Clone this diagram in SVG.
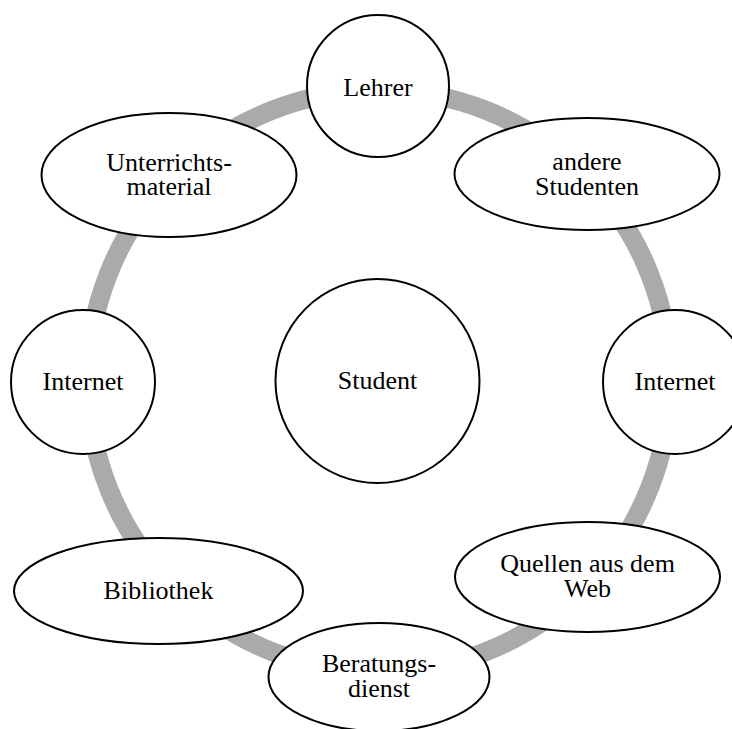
<svg xmlns="http://www.w3.org/2000/svg" width="732" height="729" viewBox="0 0 732 729">
<style>
.n{fill:#fff;stroke:#000;stroke-width:2}
.t{font-family:"Liberation Serif","Times New Roman",serif;font-size:26px;fill:#000;text-anchor:middle}
</style>
<rect width="732" height="729" fill="#fff"/>
<g id="connectors">
<circle cx="379" cy="381" r="291" fill="none" stroke="#aaaaaa" stroke-width="19"/>
</g>
<g id="student"><circle class="n" cx="377.5" cy="381" r="102"/><text class="t" x="377.5" y="389">Student</text></g>
<g id="lehrer"><circle class="n" cx="378" cy="86" r="71"/><text class="t" x="378" y="96">Lehrer</text></g>
<g id="andere-studenten"><ellipse class="n" cx="587" cy="174" rx="132.5" ry="56"/><text class="t" x="587" y="170">andere</text><text class="t" x="587" y="195">Studenten</text></g>
<g id="internet-rechts"><circle class="n" cx="675" cy="382" r="72"/><text class="t" x="675" y="390">Internet</text></g>
<g id="quellen"><ellipse class="n" cx="587.5" cy="577" rx="132.5" ry="55"/><text class="t" x="587.5" y="572">Quellen aus dem</text><text class="t" x="587.5" y="597">Web</text></g>
<g id="beratungsdienst"><ellipse class="n" cx="379" cy="677" rx="110.5" ry="54"/><text class="t" x="379" y="672">Beratungs-</text><text class="t" x="379" y="697">dienst</text></g>
<g id="bibliothek"><ellipse class="n" cx="158.5" cy="591" rx="144.5" ry="53"/><text class="t" x="158.5" y="599">Bibliothek</text></g>
<g id="internet-links"><circle class="n" cx="83" cy="382" r="72"/><text class="t" x="83" y="390">Internet</text></g>
<g id="unterrichtsmaterial"><ellipse class="n" cx="169" cy="175" rx="127.5" ry="62"/><text class="t" x="169" y="171">Unterrichts-</text><text class="t" x="169" y="195">material</text></g>
</svg>
